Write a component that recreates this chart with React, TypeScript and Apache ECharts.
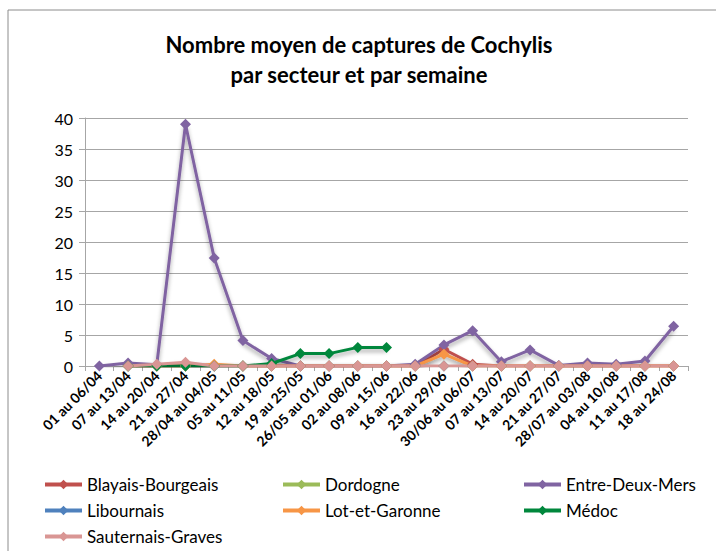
import React, { useEffect, useRef } from "react";
import * as echarts from "echarts";

const categories = [
  "01 au 06/04", "07 au 13/04", "14 au 20/04", "21 au 27/04", "28/04 au 04/05",
  "05 au 11/05", "12 au 18/05", "19 au 25/05", "26/05 au 01/06", "02 au 08/06",
  "09 au 15/06", "16 au 22/06", "23 au 29/06", "30/06 au 06/07", "07 au 13/07",
  "14 au 20/07", "21 au 27/07", "28/07 au 03/08", "04 au 10/08", "11 au 17/08",
  "18 au 24/08",
];

const blayais = [null, 0, 0, 0, 0, 0, 0, 0, 0, 0, 0, 0, 2.7, 0.3, 0, 0, 0, 0, 0, 0, 0];
const dordogne = [null, 0, 0, 0, 0, 0, 0, 0, 0, 0, 0, 0, 0, 0, 0, 0, 0, 0, 0, 0, 0];
const entreDeuxMers = [0, 0.5, 0.2, 39, 17.4, 4.1, 1.2, 0, 0, 0, 0, 0.3, 3.4, 5.7, 0.7, 2.6, 0.1, 0.5, 0.3, 0.8, 6.4];
const libournais = [null, 0, 0, 0, 0, 0, 0, 0, 0, 0, 0, 0, 0, 0, 0, 0, 0, 0, 0, 0, 0];
const lotEtGaronne = [null, 0, 0, 0, 0.3, 0, 0, 0, 0, 0, 0, 0, 1.9, 0, 0, 0, 0, 0, 0, 0, 0];
const medoc = [null, 0, 0, 0, 0, 0, 0.4, 2.0, 2.0, 3.0, 3.0, null, null, null, null, null, null, null, null, null, null];
const sauternais = [null, 0, 0.3, 0.6, 0, 0, 0, 0, 0, 0, 0, 0, 0, 0, 0, 0, 0, 0, 0, 0, 0];

const seriesDefs = [
  { name: "Blayais-Bourgeais", data: blayais, color: "#C0504D" },
  { name: "Dordogne", data: dordogne, color: "#9BBB59" },
  { name: "Entre-Deux-Mers", data: entreDeuxMers, color: "#8064A2" },
  { name: "Libournais", data: libournais, color: "#4F81BD" },
  { name: "Lot-et-Garonne", data: lotEtGaronne, color: "#F79646" },
  { name: "Médoc", data: medoc, color: "#00873C" },
  { name: "Sauternais-Graves", data: sauternais, color: "#D99694" },
];

const FONT = "Lato, 'Liberation Sans', sans-serif";

export default function App() {
  const ref = useRef<HTMLDivElement>(null);
  useEffect(() => {
    if (!ref.current) return;
    const chart = echarts.init(ref.current, null, { renderer: "svg" });
    const legendCommon = {
      orient: "vertical",
      top: 471,
      itemGap: 9,
      itemWidth: 37,
      itemHeight: 12,
      lineStyle: { width: 4 },
      textStyle: { fontFamily: FONT, fontSize: 17, color: "#000" },
    };
    chart.setOption({
      animation: false,
      backgroundColor: "#fff",
      title: {
        text: "Nombre moyen de captures de Cochylis\npar secteur et par semaine",
        left: 354,
        textAlign: "center",
        top: 24,
        textStyle: {
          fontFamily: FONT,
          fontSize: 22,
          fontWeight: "bold",
          color: "#000",
          lineHeight: 30,
        },
      },
      graphic: [
        {
          type: "rect",
          shape: { x: 8, y: 10, width: 800, height: 700 },
          style: { fill: "none", stroke: "#8c8c8c", lineWidth: 1 },
          silent: true,
        },
      ],
      legend: [
        { ...legendCommon, left: 38, data: ["Blayais-Bourgeais", "Libournais", "Sauternais-Graves"] },
        { ...legendCommon, left: 276, data: ["Dordogne", "Lot-et-Garonne"] },
        { ...legendCommon, left: 517, data: ["Entre-Deux-Mers", "Médoc"] },
      ],
      grid: { left: 85, right: 28, top: 118, bottom: 185, containLabel: false },
      xAxis: {
        type: "category",
        data: categories,
        boundaryGap: true,
        axisLine: { lineStyle: { color: "#a6a6a6", width: 1 } },
        axisTick: { show: true, alignWithLabel: false, lineStyle: { color: "#a6a6a6" }, length: 5 },
        axisLabel: {
          rotate: 45,
          interval: 0,
          fontFamily: FONT,
          fontSize: 14,
          fontWeight: "bold",
          color: "#000",
          margin: 7,
        },
      },
      yAxis: {
        type: "value",
        min: 0,
        max: 40,
        interval: 5,
        axisLine: { show: true, lineStyle: { color: "#a6a6a6" } },
        axisTick: { show: true, length: 6, lineStyle: { color: "#a6a6a6" } },
        splitLine: { lineStyle: { color: "#a6a6a6", width: 1 } },
        axisLabel: { fontFamily: FONT, fontSize: 16, color: "#000", margin: 12 },
      },
      series: seriesDefs.map((s) => ({
        name: s.name,
        type: "line",
        data: s.data,
        color: s.color,
        symbol: "diamond",
        symbolSize: 11,
        connectNulls: false,
        lineStyle: {
          width: 3,
          color: s.color,
          shadowColor: "rgba(0,0,0,0.35)",
          shadowBlur: 4,
          shadowOffsetY: 3,
        },
        itemStyle: { color: s.color },
      })),
    });
    return () => chart.dispose();
  }, []);
  return (
    <div
      ref={ref}
      style={{ position: "fixed", left: 0, top: 0, width: 716, height: 551 }}
    />
  );
}
